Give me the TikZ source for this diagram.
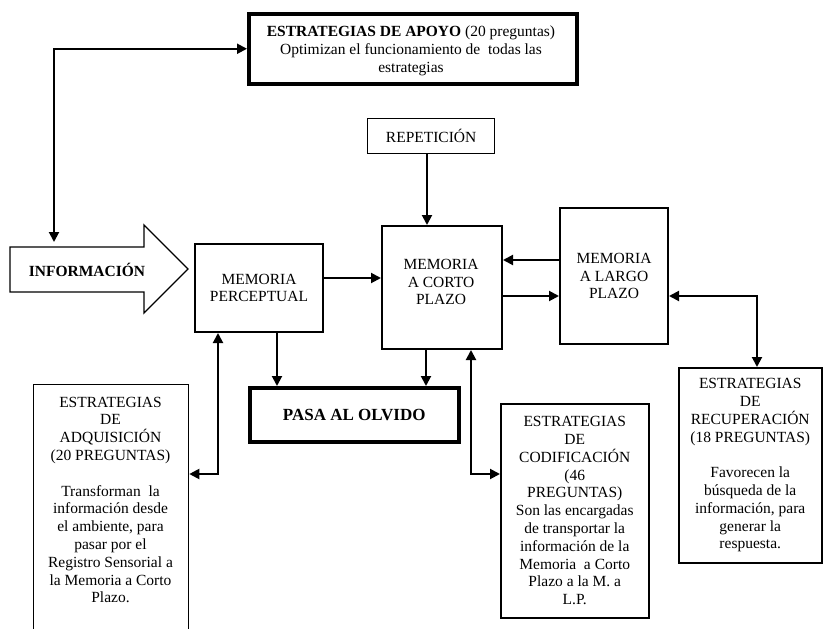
\documentclass[tikz,border=0pt]{standalone}
\usepackage{fontspec}
\setmainfont{Liberation Serif}
\usetikzlibrary{arrows.meta}
\begin{document}
\begin{tikzpicture}[x=1pt,y=-1pt,
  txt/.style={font=\fontsize{15.5}{17.8}\selectfont, align=center, inner sep=0pt},
  box/.style={draw, line width=1.5pt, inner sep=0pt, anchor=north west, txt},
  thickbox/.style={box, line width=3.5pt},
  conn/.style={line width=2pt, -{Triangle[length=10pt,width=10pt]}},
  dconn/.style={line width=2pt, {Triangle[length=10pt,width=10pt]}-{Triangle[length=10pt,width=10pt]}}
]
\useasboundingbox (0,0) rectangle (823,629);
\clip (0,0) rectangle (823,629);

% boxes
\node[thickbox, minimum width=328pt, minimum height=70pt] (apoyo) at (247,12) {};
\node[txt] (apoyot) at (411,51) {\textbf{ESTRATEGIAS DE APOYO} (20 preguntas)\\ Optimizan el funcionamiento de\ \ todas las\\ estrategias};
\node[box, line width=1.3pt, minimum width=127pt, minimum height=35pt] (rep) at (367,118) {REPETICI\'ON};
\node[box, line width=2pt, minimum width=128pt, minimum height=88pt] (mp) at (194,243) {MEMORIA\\ PERCEPTUAL};
\node[box, line width=2pt, minimum width=120pt, minimum height=123pt] (mcp) at (381,225) {};
\node[txt] (mcpt) at (441,282) {MEMORIA\\ A CORTO\\ PLAZO};
\node[box, line width=2pt, minimum width=108pt, minimum height=136pt] (mlp) at (559,207) {MEMORIA\\ A LARGO\\ PLAZO};
\node[thickbox, minimum width=209pt, minimum height=54pt, font=\fontsize{17}{20}\selectfont\bfseries] (olv) at (248,386) {PASA AL OLVIDO};
\node[box, line width=1.3pt, minimum width=155pt, minimum height=260pt] (adq) at (33,384) {};
\node[txt] (adqt) at (110.5,500) {ESTRATEGIAS\\ DE\\ ADQUISICI\'ON\\ (20 PREGUNTAS)\\[\baselineskip] Transforman\ \ la\\ informaci\'on desde\\ el ambiente, para\\ pasar por el\\ Registro Sensorial a\\ la Memoria a Corto\\ Plazo.};
\node[box, line width=1.5pt, minimum width=148pt, minimum height=214pt] (cod) at (500,403) {ESTRATEGIAS\\ DE\\ CODIFICACI\'ON\\ (46\\ PREGUNTAS)\\ Son las encargadas\\ de transportar la\\ informaci\'on de la\\ Memoria\ \ a Corto\\ Plazo a la M. a\\ L.P.};
\node[box, line width=1.5pt, minimum width=143pt, minimum height=195pt] (rec) at (678,367) {ESTRATEGIAS\\ DE\\ RECUPERACI\'ON\\ (18 PREGUNTAS)\\[\baselineskip] Favorecen la\\ b\'usqueda de la\\ informaci\'on, para\\ generar la\\ respuesta.};

% information block arrow
\draw[line width=1.3pt, line join=miter] (10,247) -- (144,247) -- (144,225) -- (188,269) -- (144,313) -- (144,292) -- (10,292) -- cycle;
\node[txt, font=\fontsize{15.5}{17.8}\selectfont\bfseries] (info) at (87,270) {INFORMACI\'ON};
\coordinate (infotop) at (54,242);

% connectors
\draw[dconn] (infotop) |- (apoyo.west);
\draw[conn] (mp.east |- 0,278) -- (mcp.west |- 0,278);
\draw[conn] (mlp.west |- 0,260) -- (mcp.east |- 0,260);
\draw[conn] (mcp.east |- 0,296) -- (mlp.west |- 0,296);
\draw[conn] (rep.south -| 427,0) -- (mcp.north -| 427,0);
\draw[conn] (mp.south -| 277,0) -- (olv.north -| 277,0);
\draw[conn] (mcp.south -| 426,0) -- (olv.north -| 426,0);
\draw[dconn] (mp.south -| 218,0) |- (adq.east |- 0,474);
\draw[dconn] (mcp.south -| 471,0) |- (cod.west |- 0,474);
\draw[dconn] (mlp.east |- 0,296) -| (rec.north -| 757,0);
\end{tikzpicture}
\end{document}
